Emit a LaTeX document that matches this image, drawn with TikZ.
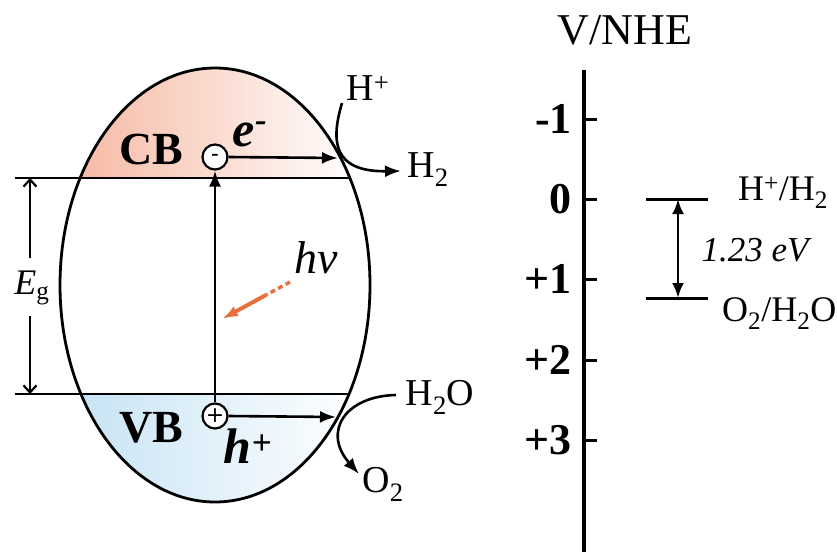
\documentclass[tikz,border=0pt]{standalone}
\usepackage{fontspec}
\setmainfont{Liberation Serif}
\usetikzlibrary{arrows.meta}
\definecolor{cbfill}{RGB}{246,182,160}
\definecolor{vbfill}{RGB}{196,226,244}
\definecolor{hvorange}{RGB}{232,112,60}
\newcommand{\fs}[1]{\fontsize{#1}{#1}\selectfont}
\begin{document}
\begin{tikzpicture}[x=1pt,y=-1pt,
  lbl/.style={inner sep=0pt},
  band/.style={line width=2.4pt},
  arr/.style={line width=2.6pt,-{Latex[length=16pt,width=12pt]}},
  barb/.style={line width=2.2pt,-{Straight Barb[length=7pt,width=13pt]}},
  carrier/.style={circle,draw,line width=2.2pt,fill=white,minimum size=25pt,inner sep=0pt},
  hvarrow/.style={draw=hvorange,line width=4pt},
  tick/.style={line width=3pt},
  level/.style={line width=3pt}]
\useasboundingbox (0,0) rectangle (837,552);
% band fills
\begin{scope}
  \clip (215,285) ellipse [x radius=155pt, y radius=217pt];
  \shade[left color=cbfill, right color=white] (60,60) rectangle (360,178);
  \shade[left color=vbfill, right color=white] (60,394) rectangle (360,510);
\end{scope}
\draw[line width=2.8pt] (215,285) ellipse [x radius=155pt, y radius=217pt];
% band edges
\coordinate (cbL) at (15,178);
\coordinate (cbE) at (350,178);
\coordinate (vbL) at (15,394);
\coordinate (vbE) at (350,394);
\draw[band] (cbL) -- (cbE);
\draw[band] (vbL) -- (vbE);
% Eg
\coordinate (egT) at (30,178);
\coordinate (egB) at (30,394);
\node[lbl] (eg) at (32,288) {\fs{36}\textit{E}\textsubscript{g}};
\draw[barb] (30,258) -- (egT);
\draw[barb] (30,316) -- (egB);
% labels CB VB
\node[lbl] (cb) at (151,149) {\fs{46}\bfseries CB};
\node[lbl] (vb) at (151,428) {\fs{46}\bfseries VB};
% carriers
\node[carrier] (m) at (215,157) {\fs{22}\bfseries -};
\node[carrier] (p) at (215,416) {\fontspec{DejaVu Sans}\fs{22}+};
\node[lbl] (e) at (250,134) {\fs{50}\bfseries\itshape e\raisebox{6pt}{\textsuperscript{-}}};
\node[lbl] (h) at (248,446) {\fs{50}\bfseries\itshape h\textsuperscript{+}};
\draw[arr] (p.north) -- (m.south);
\coordinate (cbR) at (338,158);
\coordinate (vbR) at (336,417);
\draw[arr] (m.east) -- (cbR);
\draw[arr] (p.east) -- (vbR);
% reactions
\node[lbl] (hp) at (368,88) {\fs{38}H\textsuperscript{+}};
\node[lbl] (h2) at (428,170) {\fs{38}H\textsubscript{2}};
\node[lbl] (h2o) at (440,397) {\fs{38}H\textsubscript{2}O};
\node[lbl] (o2) at (383,484) {\fs{38}O\textsubscript{2}};
\coordinate (hpS) at (342,103);
\coordinate (h2E) at (401,171);
\coordinate (h2oS) at (396,395);
\coordinate (o2E) at (359,474);
\draw[arr] (hpS) .. controls (331,140) and (332,172) .. (h2E);
\draw[arr] (h2oS) .. controls (345,396) and (322,432) .. (o2E);
% hv
\node[lbl] (hv) at (316,258) {\fs{46}\itshape hv};
\coordinate (hvS) at (290,282);
\coordinate (hvM) at (266,295);
\coordinate (hvE) at (222,319);
\draw[hvarrow, line width=3.5pt, dash pattern=on 5pt off 3.5pt] (hvS) -- (hvM);
\draw[hvarrow, -{Latex[length=16pt,width=11pt]}, fill=hvorange] (hvM) -- (hvE);
% right axis
\node[lbl] (vnhe) at (625,30) {\fs{44}V/NHE};
\coordinate (axT) at (584,70);
\coordinate (axB) at (584,552);
\draw[line width=3.4pt] (axT) -- (axB);
\foreach \y/\t [count=\i] in {119/-1,199/0,279/+1,360/+2,440/+3}{
  \coordinate (t\i) at (584,\y);
  \coordinate (te\i) at (597,\y);
  \draw[tick] (t\i) -- (te\i);
  \node[lbl,anchor=east] (tl\i) at (572,\y) {\fs{44}\bfseries \t};
}
% levels
\coordinate (l1a) at (646,199);
\coordinate (l1b) at (708,199);
\coordinate (l2a) at (646,298);
\coordinate (l2b) at (708,298);
\draw[level] (l1a) -- (l1b);
\draw[level] (l2a) -- (l2b);
\coordinate (laT) at (678,199);
\coordinate (laB) at (678,298);
\draw[line width=2.8pt,{Latex[length=15pt,width=12pt]}-{Latex[length=15pt,width=12pt]}] (laT) -- (laB);
\node[lbl] (gap) at (755,250) {\fs{35}\itshape 1.23 eV};
\node[lbl,anchor=west] (hh2) at (738,193) {\fs{36}H\textsuperscript{+}/H\textsubscript{2}};
\node[lbl,anchor=west] (o2h2o) at (722,314) {\fs{36}O\textsubscript{2}/H\textsubscript{2}O};
\end{tikzpicture}
\end{document}
